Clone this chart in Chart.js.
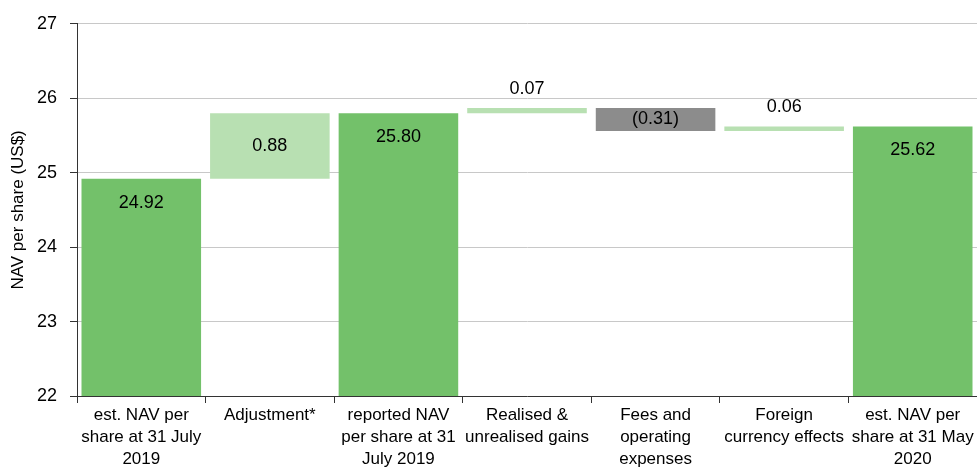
<!DOCTYPE html>
<html>
<head>
<meta charset="utf-8">
<script src="https://cdn.jsdelivr.net/npm/chart.js@4"></script>
<style>
  html, body { margin: 0; padding: 0; background: #fff; }
  #wrap { width: 977px; height: 473px; }
</style>
</head>
<body>
<div id="wrap"><canvas id="nav"></canvas></div>
<script>
const categories = [
  ['est. NAV per', 'share at 31 July', '2019'],
  ['Adjustment*'],
  ['reported NAV', 'per share at 31', 'July 2019'],
  ['Realised &', 'unrealised gains'],
  ['Fees and', 'operating', 'expenses'],
  ['Foreign', 'currency effects'],
  ['est. NAV per', 'share at 31 May', '2020']
];
const values = [24.92, 0.88, 25.80, 0.07, -0.31, 0.06, 25.62];
const isTotal = [true, false, true, false, false, false, true];
const valueLabels = ['24.92', '0.88', '25.80', '0.07', '(0.31)', '0.06', '25.62'];
const yTicks = [22, 23, 24, 25, 26, 27];

const dark = '#73c16a';
const light = '#b8e0b2';
const grey = '#8c8c8c';

// build floating bars from running total
let running = 0;
const ranges = values.map((v, i) => {
  if (isTotal[i]) { running = v; return [22, v]; }
  const start = running;
  running = +(running + v).toFixed(2);
  return [start, running];
});
const colours = values.map((v, i) => isTotal[i] ? dark : (v < 0 ? grey : light));

const font = "'Liberation Sans', Arial, sans-serif";

const labelPlugin = {
  id: 'labels',
  afterDatasetsDraw(chart) {
    const ctx = chart.ctx;
    const meta = chart.getDatasetMeta(0);
    ctx.save();
    ctx.font = '18px ' + font;
    ctx.fillStyle = '#000';
    ctx.textAlign = 'center';
    ctx.textBaseline = 'middle';
    meta.data.forEach((bar, i) => {
      const top = Math.min(bar.y, bar.base);
      const bottom = Math.max(bar.y, bar.base);
      let y;
      if (isTotal[i]) y = top + 24;
      else if (bottom - top < 12) y = top - 19;
      else y = (top + bottom) / 2;
      ctx.fillText(valueLabels[i], bar.x, y);
    });
    ctx.restore();
  }
};

new Chart(document.getElementById('nav'), {
  type: 'bar',
  data: {
    labels: categories,
    datasets: [{
      data: ranges,
      backgroundColor: colours,
      borderWidth: 0,
      borderSkipped: false,
      barPercentage: 0.93,
      categoryPercentage: 1
    }]
  },
  options: {
    responsive: true,
    maintainAspectRatio: false,
    animation: false,
    layout: { padding: { top: 8, right: 0, left: 0, bottom: 0 } },
    plugins: { legend: { display: false }, tooltip: { enabled: false } },
    scales: {
      x: {
        grid: { offset: true, drawOnChartArea: false, tickLength: 7, tickColor: '#333' },
        border: { color: '#333', width: 1 },
        ticks: { color: '#000', font: { family: font, size: 17, lineHeight: 1.27 }, maxRotation: 0, autoSkip: false, padding: 2 },
        afterFit(scale) { scale.height = 77; }
      },
      y: {
        min: 22,
        max: 27,
        afterBuildTicks(scale) { scale.ticks = yTicks.map(v => ({ value: v })); },
        grid: { color: '#c8c8c8', tickColor: '#333', tickLength: 7 },
        border: { color: '#333', width: 1 },
        ticks: { color: '#000', font: { family: font, size: 18 }, padding: 13 },
        title: { display: true, text: 'NAV per share (US$)', color: '#000', font: { family: font, size: 17 }, padding: { top: 8, bottom: 0 } },
        afterFit(scale) { scale.width = 77; }
      }
    }
  },
  plugins: [labelPlugin]
});
</script>
</body>
</html>
